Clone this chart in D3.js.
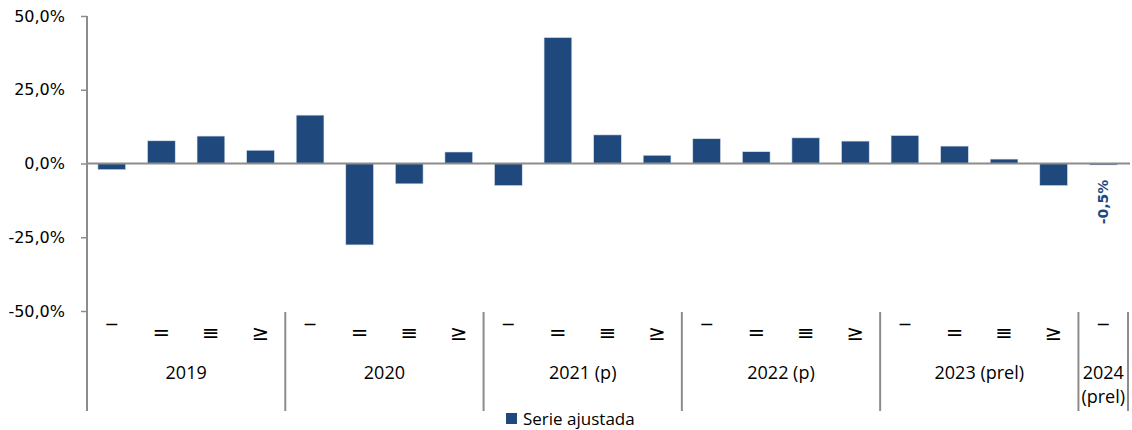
<!DOCTYPE html>
<html>
<head>
<meta charset="utf-8">
<script src="https://cdn.jsdelivr.net/npm/d3@7"></script>
<style>
  body { margin: 0; background: #fff; }
  svg text { font-family: "Open Sans", Lato, sans-serif; fill: #000; }
</style>
</head>
<body>
<div id="chart"></div>
<script>
  // data
  const years = ["2019", "2020", "2021 (p)", "2022 (p)", "2023 (prel)", "2024 (prel)"];
  const quartersPerYear = [4, 4, 4, 4, 4, 1];
  const quarterLabels = ["‾", "=", "≡", "≥"];
  const values = [
    -2.1, 7.7, 9.3, 4.5,
    16.4, -27.6, -6.9, 3.9,
    -7.5, 42.7, 9.7, 2.8,
    8.4, 4.0, 8.7, 7.6,
    9.5, 5.9, 1.5, -7.5,
    -0.5
  ];
  const yTicks = [-50, -25, 0, 25, 50];
  const seriesName = "Serie ajustada";
  const labelledIndex = 20;

  (function () {
    const width = 1132, height = 430;
    const plotLeft = 87, plotRight = 1128, plotTop = 16, plotBottom = 311;
    const barColor = "#1F497D";
    const axisColor = "#8c8c8c";
    const outerPad = 0.22;

    const svg = d3.select("#chart").append("svg")
      .attr("width", width).attr("height", height);

    // build category list
    const cats = [];
    years.forEach((yr, gi) => {
      for (let q = 0; q < quartersPerYear[gi]; q++) {
        cats.push({ id: gi + "-" + q, year: yr, group: gi, label: quarterLabels[q], value: values[cats.length] });
      }
    });

    const x = d3.scaleBand().domain(cats.map(d => d.id)).range([plotLeft, plotRight]).paddingInner(0.44).paddingOuter(outerPad);
    const y = d3.scaleLinear().domain([-50, 50]).range([plotBottom, plotTop]);

    const loc = d3.formatLocale({ decimal: ",", thousands: ".", grouping: [3], currency: ["", ""], minus: "-" });
    const fmt = loc.format(".1f");

    // y axis
    const yAxis = svg.append("g")
      .attr("transform", `translate(${plotLeft},0)`)
      .call(d3.axisLeft(y).tickValues(yTicks).tickSize(6).tickPadding(16).tickFormat(d => fmt(d) + "%"));
    yAxis.select(".domain").remove();
    yAxis.selectAll(".tick line").attr("stroke", axisColor).attr("stroke-width", 1.5);
    yAxis.selectAll(".tick text")
      .attr("font-size", 16)
      .style("font-family", "'DejaVu Sans', sans-serif")
      .attr("fill", "#000");

    // vertical axis line (extends down into the category area)
    svg.append("line")
      .attr("x1", plotLeft).attr("x2", plotLeft).attr("y1", plotTop).attr("y2", 411)
      .attr("stroke", axisColor).attr("stroke-width", 2);

    // bars
    svg.append("g").selectAll("rect")
      .data(cats)
      .join("rect")
      .attr("x", d => x(d.id))
      .attr("width", x.bandwidth())
      .attr("y", d => y(Math.max(0, d.value)))
      .attr("height", d => Math.abs(y(d.value) - y(0)))
      .attr("fill", barColor)
      .attr("stroke", "#dbe3ee")
      .attr("stroke-width", 0.6);

    // zero line
    svg.append("line")
      .attr("x1", plotLeft).attr("x2", 1130).attr("y1", y(0)).attr("y2", y(0))
      .attr("stroke", axisColor).attr("stroke-width", 2);

    // data label for last bar
    const lastCat = cats[labelledIndex];
    svg.append("text")
      .attr("transform", `translate(${x(lastCat.id) + x.bandwidth() / 2 + 5},${y(lastCat.value) + 37}) rotate(-90)`)
      .attr("text-anchor", "middle")
      .attr("font-size", 14)
      .attr("font-weight", "bold")
      .style("font-family", "'DejaVu Sans', sans-serif")
      .style("fill", barColor)
      .text(fmt(lastCat.value) + "%");

    // quarter labels
    svg.append("g").selectAll("text")
      .data(cats)
      .join("text")
      .attr("x", d => x(d.id) + x.bandwidth() / 2)
      .attr("y", 340)
      .attr("text-anchor", "middle")
      .attr("font-size", 21)
      .style("font-family", "'DejaVu Sans', sans-serif")
      .text(d => d.label);

    // group separators and year labels
    const step = x.step();
    let idx = 0;
    quartersPerYear.forEach((n, gi) => {
      const x0 = x(cats[idx].id) - step * outerPad;
      const x1 = x0 + n * step;
      svg.append("line")
        .attr("x1", x1).attr("x2", x1).attr("y1", 312).attr("y2", 411)
        .attr("stroke", axisColor).attr("stroke-width", 2);
      const parts = n === 1 ? years[gi].split(" ") : [years[gi]];
      parts.forEach((p, pi) => {
        svg.append("text")
          .attr("x", (x0 + x1) / 2)
          .attr("y", 379 + pi * 24)
          .attr("text-anchor", "middle")
          .attr("font-size", 18)
          .text(p);
      });
      idx += n;
    });

    // legend
    const lg = svg.append("g").attr("transform", "translate(506,413)");
    lg.append("rect").attr("width", 11).attr("height", 11).attr("fill", barColor);
    lg.append("text").attr("x", 17).attr("y", 12).attr("font-size", 17).text(seriesName);
  })();
</script>
</body>
</html>
